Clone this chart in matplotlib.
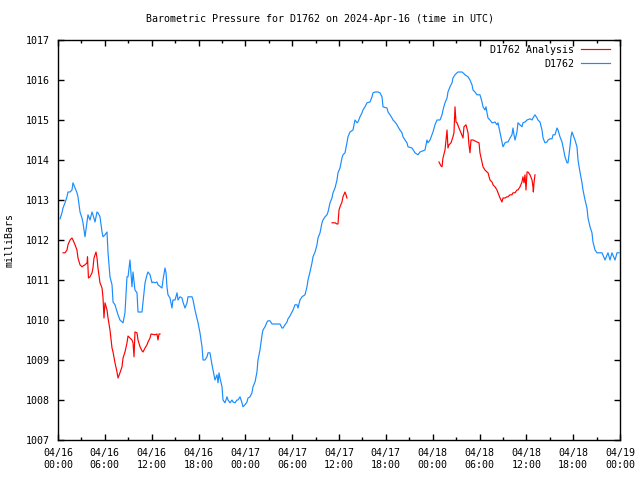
import numpy as np
import matplotlib
matplotlib.use("Agg")
import matplotlib.pyplot as plt
from matplotlib.ticker import MultipleLocator, FixedLocator

# hours since 2024-04-16 00:00 UTC
blue_hours = [0.26, 0.51, 0.64, 0.90, 1.15, 1.28, 1.54, 1.79, 1.92, 2.18, 2.43, 2.56, 2.82, 3.07, 3.20, 3.46, 3.72, 3.84, 4.10, 4.36,
              4.48, 4.74, 5.00, 5.12, 5.38, 5.64, 5.77, 6.02, 6.28, 6.41, 6.66, 6.92, 7.05, 7.30, 7.69, 7.94, 8.33, 8.58, 8.84, 8.97,
              9.22, 9.48, 9.61, 9.86, 10.12, 10.25, 10.76, 11.15, 11.40, 11.53, 11.79, 12.04, 12.17, 12.43, 12.68, 12.81, 13.32, 13.45, 13.71, 13.84,
              13.96, 14.09, 14.35, 14.60, 14.73, 14.99, 15.25, 15.37, 15.63, 15.89, 16.01, 16.27, 16.53, 16.65, 17.17, 17.30, 17.55, 17.94, 18.19, 18.45,
              18.58, 18.83, 19.09, 19.22, 19.47, 19.73, 19.86, 20.11, 20.37, 20.50, 20.63, 20.75, 21.01, 21.14, 21.39, 21.65, 21.78, 22.04, 22.29, 22.42,
              22.68, 22.93, 23.06, 23.32, 23.57, 23.70, 23.96, 24.21, 24.34, 24.60, 24.85, 24.98, 25.24, 25.49, 25.62, 25.88, 26.14, 26.26, 26.52, 26.78,
              26.90, 27.16, 27.42, 28.44, 28.70, 28.83, 29.08, 29.34, 29.47, 29.72, 30.11, 30.36, 30.62, 30.75, 31.00, 31.26, 31.64, 31.90, 32.03, 32.28,
              32.54, 32.67, 32.93, 33.18, 33.31, 33.57, 33.82, 33.95, 34.21, 34.46, 34.59, 34.85, 35.10, 35.23, 35.49, 35.74, 35.87, 36.13, 36.38, 36.51,
              36.77, 37.02, 37.15, 37.41, 37.79, 38.05, 38.31, 38.43, 38.69, 38.95, 39.07, 39.33, 39.59, 39.97, 40.23, 40.36, 40.61, 41.00, 41.25, 41.51,
              41.64, 42.15, 42.28, 42.53, 42.79, 42.92, 43.17, 43.43, 43.56, 43.81, 44.07, 44.20, 44.46, 44.71, 44.84, 45.35, 45.74, 46.12, 46.38, 47.02,
              47.27, 47.40, 47.66, 48.04, 48.30, 48.56, 48.94, 49.20, 49.32, 49.58, 49.84, 49.96, 50.22, 50.48, 50.60, 50.86, 51.12, 51.25, 51.76, 51.89,
              52.14, 52.53, 52.78, 53.04, 53.17, 53.42, 53.68, 54.06, 54.32, 54.45, 54.70, 54.83, 54.96, 55.09, 55.34, 55.60, 55.73, 55.98, 56.24, 56.37,
              56.63, 56.88, 57.01, 57.27, 57.52, 57.65, 57.91, 58.16, 58.29, 58.42, 58.55, 58.80, 58.93, 59.19, 59.44, 59.57, 59.83, 60.09, 60.47, 60.73,
              60.85, 61.11, 61.37, 61.49, 61.75, 62.01, 62.14, 62.39, 62.65, 62.78, 63.03, 63.29, 63.42, 63.67, 63.93, 64.06, 64.31, 64.57, 64.70, 64.95,
              65.21, 65.34, 65.59, 65.72, 65.85, 65.98, 66.23, 66.49, 66.62, 66.87, 67.13, 67.26, 67.52, 67.77, 67.90, 68.16, 68.41, 68.54, 68.80, 69.05,
              69.69, 70.08, 70.46, 70.72, 70.97, 71.36, 71.62, 71.87]
blue_mbar = [1012.53, 1012.68, 1012.80, 1012.93, 1013.08, 1013.20, 1013.20, 1013.25, 1013.43, 1013.30, 1013.18, 1013.08, 1012.70, 1012.55, 1012.43, 1012.08, 1012.45, 1012.63, 1012.50, 1012.70,
             1012.63, 1012.45, 1012.70, 1012.68, 1012.58, 1012.20, 1012.08, 1012.13, 1012.20, 1011.68, 1011.08, 1010.88, 1010.45, 1010.38, 1010.13, 1010.00, 1009.93, 1010.18, 1011.08, 1011.08,
             1011.50, 1010.83, 1011.20, 1010.75, 1010.68, 1010.20, 1010.20, 1010.93, 1011.13, 1011.20, 1011.13, 1010.93, 1010.95, 1010.93, 1010.95, 1010.88, 1010.80, 1011.00, 1011.30, 1011.18,
             1010.83, 1010.63, 1010.55, 1010.30, 1010.50, 1010.50, 1010.68, 1010.50, 1010.58, 1010.55, 1010.45, 1010.30, 1010.43, 1010.58, 1010.58, 1010.50, 1010.25, 1009.93, 1009.68, 1009.33,
             1009.00, 1009.00, 1009.08, 1009.18, 1009.18, 1008.88, 1008.75, 1008.50, 1008.63, 1008.43, 1008.68, 1008.55, 1008.33, 1008.00, 1007.93, 1008.08, 1008.00, 1007.93, 1008.00, 1007.95,
             1007.93, 1008.00, 1008.00, 1008.08, 1007.93, 1007.83, 1007.88, 1007.95, 1008.05, 1008.08, 1008.18, 1008.33, 1008.45, 1008.70, 1009.00, 1009.25, 1009.63, 1009.75, 1009.83, 1009.95,
             1009.98, 1009.98, 1009.90, 1009.90, 1009.80, 1009.80, 1009.88, 1009.95, 1010.03, 1010.10, 1010.25, 1010.38, 1010.38, 1010.30, 1010.50, 1010.58, 1010.63, 1010.83, 1011.00, 1011.20,
             1011.43, 1011.58, 1011.70, 1011.88, 1012.05, 1012.18, 1012.43, 1012.50, 1012.58, 1012.63, 1012.70, 1012.93, 1013.05, 1013.18, 1013.30, 1013.50, 1013.68, 1013.80, 1014.05, 1014.13,
             1014.18, 1014.43, 1014.58, 1014.70, 1014.75, 1015.00, 1014.93, 1014.95, 1015.08, 1015.18, 1015.25, 1015.33, 1015.43, 1015.45, 1015.58, 1015.68, 1015.70, 1015.70, 1015.68, 1015.58,
             1015.33, 1015.30, 1015.20, 1015.13, 1015.05, 1015.00, 1014.95, 1014.88, 1014.83, 1014.75, 1014.68, 1014.58, 1014.50, 1014.43, 1014.33, 1014.30, 1014.18, 1014.13, 1014.20, 1014.25,
             1014.50, 1014.43, 1014.50, 1014.70, 1014.88, 1015.00, 1015.00, 1015.13, 1015.25, 1015.43, 1015.55, 1015.70, 1015.83, 1015.93, 1016.05, 1016.13, 1016.18, 1016.20, 1016.20, 1016.18,
             1016.13, 1016.08, 1016.00, 1015.88, 1015.75, 1015.70, 1015.63, 1015.63, 1015.45, 1015.33, 1015.25, 1015.33, 1015.18, 1015.05, 1015.00, 1014.93, 1014.93, 1014.95, 1014.88, 1014.93,
             1014.68, 1014.45, 1014.33, 1014.43, 1014.45, 1014.45, 1014.55, 1014.63, 1014.80, 1014.63, 1014.50, 1014.70, 1014.93, 1014.88, 1014.83, 1014.93, 1014.95, 1015.00, 1015.03, 1015.00,
             1015.05, 1015.13, 1015.05, 1015.00, 1014.95, 1014.75, 1014.55, 1014.43, 1014.45, 1014.50, 1014.53, 1014.53, 1014.63, 1014.63, 1014.80, 1014.75, 1014.58, 1014.45, 1014.33, 1014.08,
             1013.93, 1013.93, 1014.33, 1014.58, 1014.70, 1014.63, 1014.50, 1014.33, 1014.00, 1013.70, 1013.43, 1013.25, 1013.00, 1012.80, 1012.55, 1012.33, 1012.18, 1011.95, 1011.75, 1011.68,
             1011.68, 1011.50, 1011.68, 1011.50, 1011.68, 1011.50, 1011.68, 1011.68]

# analysis series: three separate runs (gaps between them)
red1_hours = [0.64, 0.90, 1.15, 1.28, 1.54, 1.79, 1.92, 2.18, 2.43, 2.56, 2.82, 3.07, 3.20, 3.46, 3.72, 3.78, 3.90, 4.10, 4.36, 4.48,
              4.61, 4.87, 5.00, 5.12, 5.38, 5.64, 5.77, 5.89, 6.02, 6.28, 6.41, 6.66, 6.92, 7.05, 7.30, 7.56, 7.69, 7.94, 8.20, 8.33,
              8.58, 8.84, 8.97, 9.48, 9.61, 9.74, 9.86, 10.12, 10.25, 10.51, 10.76, 10.89, 11.15, 11.40, 11.53, 11.79, 11.92, 12.43, 12.68, 12.81,
              12.94, 13.07]
red1_mbar = [1011.68, 1011.68, 1011.75, 1011.88, 1012.00, 1012.05, 1012.00, 1011.88, 1011.75, 1011.55, 1011.38, 1011.33, 1011.35, 1011.38, 1011.43, 1011.58, 1011.05, 1011.08, 1011.18, 1011.30,
             1011.55, 1011.70, 1011.55, 1011.30, 1010.93, 1010.80, 1010.55, 1010.05, 1010.43, 1010.25, 1010.05, 1009.75, 1009.30, 1009.20, 1008.93, 1008.70, 1008.55, 1008.68, 1008.83, 1009.05,
             1009.20, 1009.43, 1009.60, 1009.50, 1009.43, 1009.08, 1009.70, 1009.68, 1009.50, 1009.33, 1009.23, 1009.20, 1009.30, 1009.38, 1009.45, 1009.55, 1009.65, 1009.63, 1009.65, 1009.50,
             1009.65, 1009.65]
red2_hours = [35.10, 35.49, 35.74, 35.87, 36.00, 36.13, 36.38, 36.51, 36.77, 36.90, 37.02]
red2_mbar = [1012.43, 1012.43, 1012.40, 1012.40, 1012.75, 1012.83, 1012.95, 1013.08, 1013.20, 1013.13, 1013.05]
red3_hours = [48.81, 49.07, 49.20, 49.32, 49.58, 49.71, 49.84, 49.96, 50.09, 50.35, 50.60, 50.73, 50.86, 50.99, 51.12, 51.37, 51.63, 51.89, 52.01, 52.27,
              52.53, 52.65, 52.78, 52.91, 53.17, 53.68, 53.94, 54.06, 54.32, 54.45, 54.70, 54.96, 55.09, 55.34, 55.60, 55.73, 55.98, 56.24, 56.37, 56.63,
              56.88, 57.01, 57.27, 57.52, 57.65, 57.91, 58.16, 58.29, 58.55, 58.80, 58.93, 59.19, 59.44, 59.57, 59.70, 59.83, 59.96, 60.09, 60.21, 60.47,
              60.73, 60.85, 60.90, 60.98, 61.11]
red3_mbar = [1013.95, 1013.85, 1013.83, 1014.05, 1014.25, 1014.50, 1014.75, 1014.30, 1014.38, 1014.43, 1014.58, 1014.68, 1015.33, 1014.95, 1014.93, 1014.80, 1014.68, 1014.55, 1014.83, 1014.88,
             1014.68, 1014.38, 1014.18, 1014.50, 1014.50, 1014.45, 1014.43, 1014.18, 1013.95, 1013.83, 1013.75, 1013.70, 1013.68, 1013.50, 1013.45, 1013.38, 1013.33, 1013.25, 1013.18, 1013.05,
             1012.95, 1013.05, 1013.05, 1013.08, 1013.08, 1013.13, 1013.13, 1013.18, 1013.18, 1013.25, 1013.25, 1013.33, 1013.45, 1013.58, 1013.43, 1013.63, 1013.25, 1013.70, 1013.70, 1013.63,
             1013.50, 1013.33, 1013.20, 1013.43, 1013.63]

x_tick_labels = ["04/16\n00:00", "04/16\n06:00", "04/16\n12:00", "04/16\n18:00",
                 "04/17\n00:00", "04/17\n06:00", "04/17\n12:00", "04/17\n18:00",
                 "04/18\n00:00", "04/18\n06:00", "04/18\n12:00", "04/18\n18:00",
                 "04/19\n00:00"]
y_ticks = [1007, 1008, 1009, 1010, 1011, 1012, 1013, 1014, 1015, 1016, 1017]

title = "Barometric Pressure for D1762 on 2024-Apr-16 (time in UTC)"

FONT = "DejaVu Sans Mono"
FS = 7.2
plt.rcParams["font.family"] = FONT

fig = plt.figure(figsize=(6.4, 4.8), dpi=100)
ax = fig.add_axes([58 / 640, 40 / 480, 562 / 640, 400 / 480])

RED = "#ff0000"
BLUE = "#1a8cff"

red_h = red1_hours + [np.nan] + red2_hours + [np.nan] + red3_hours
red_v = red1_mbar + [np.nan] + red2_mbar + [np.nan] + red3_mbar
ax.plot(red_h, red_v, color=RED, lw=0.85, label="D1762 Analysis")
ax.plot(blue_hours, blue_mbar, color=BLUE, lw=0.85, label="D1762")

ax.set_xlim(0, 72)
ax.set_ylim(1007, 1017)
ax.xaxis.set_major_locator(FixedLocator(np.arange(0, 73, 6)))
ax.xaxis.set_minor_locator(MultipleLocator(3))
ax.set_xticklabels(x_tick_labels, fontsize=FS)
ax.set_yticks(y_ticks)
ax.set_yticklabels([str(v) for v in y_ticks], fontsize=FS)

ax.tick_params(axis="both", which="major", direction="in", length=4, width=1,
               top=True, right=True, pad=6, colors="black")
ax.tick_params(axis="both", which="minor", direction="in", length=2.5, width=1,
               top=True, right=True)
ax.tick_params(axis="x", which="major", pad=6)
for s in ax.spines.values():
    s.set_linewidth(1.0)
    s.set_color("black")

ax.set_ylabel("milliBars", fontsize=FS, labelpad=8)
fig.text(0.5, 1 - 19 / 480, title, ha="center", va="center", fontsize=FS)

leg = ax.legend(loc="upper right", bbox_to_anchor=(0.982, 0.988), fontsize=FS,
                frameon=False, markerfirst=False, borderpad=0, borderaxespad=0,
                handlelength=2.9, handletextpad=0.7, labelspacing=0.4)
for t in leg.get_texts():
    t.set_ha("right")
leg._legend_box.align = "right"

fig.savefig("out.png", dpi=100)
